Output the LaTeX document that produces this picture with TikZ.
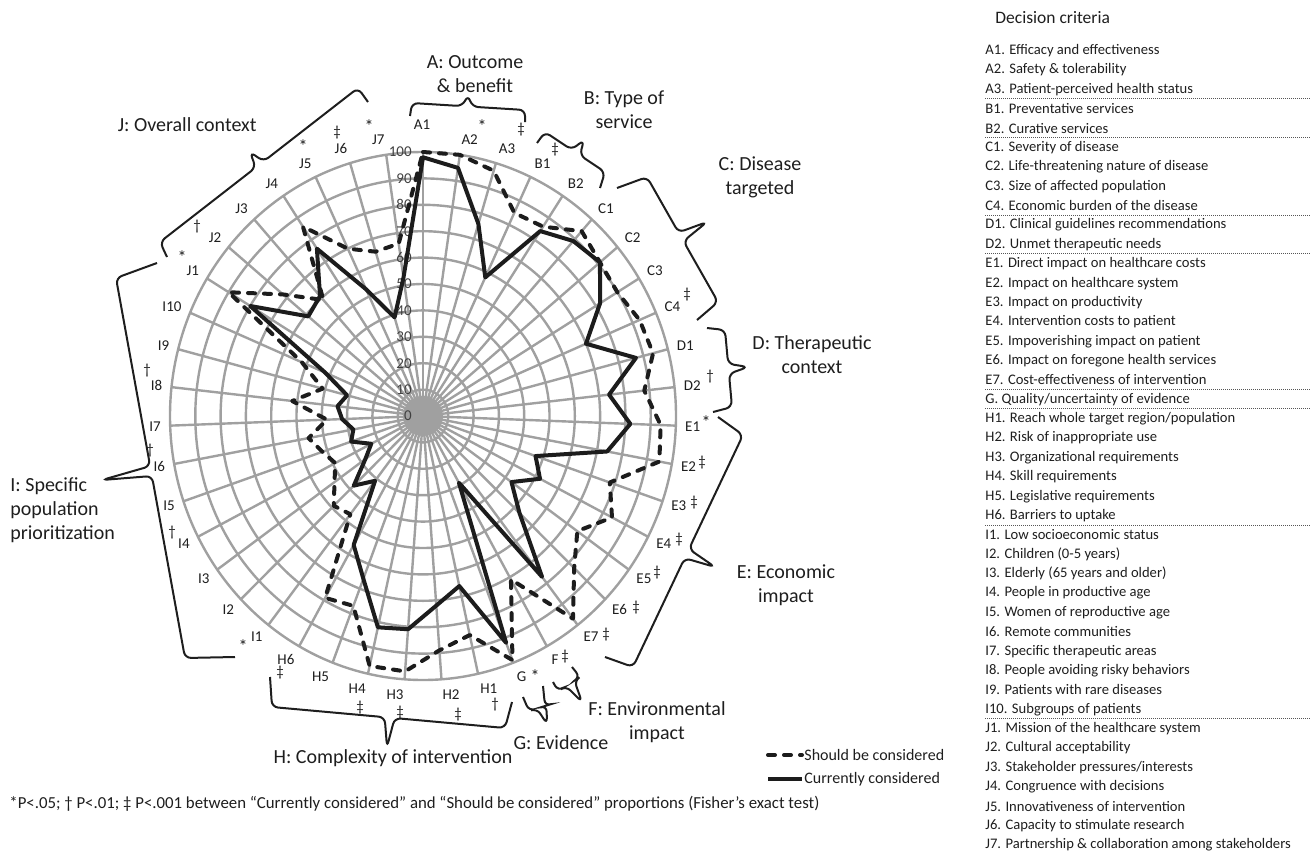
\documentclass[tikz,border=0pt]{standalone}
\usepackage{fontspec}
\setmainfont{Carlito}
\usetikzlibrary{calc}
\definecolor{gridc}{RGB}{160,160,160}
\definecolor{txt}{RGB}{30,30,30}
\definecolor{ser}{RGB}{28,28,28}
\tikzset{
  grid/.style={draw=gridc, line width=1.2pt},
  ringlab/.style={text=txt!85, font=\fontsize{7.5}{9}\selectfont, inner sep=0pt},
  axlab/.style={text=txt, font=\fontsize{7.5}{9}\selectfont, inner sep=0pt},
  sig/.style={text=txt, font=\fontsize{7.5}{9}\selectfont, inner sep=0pt},
  sigast/.style={text=txt, font=\fontsize{9}{10}\selectfont, inner sep=0pt},
  grouplab/.style={text=txt, font=\fontsize{10}{12}\selectfont, inner sep=0pt, align=center},
  bracestyle/.style={draw=txt, line width=1pt, rounded corners=3pt},
  shouldser/.style={draw=ser, line width=2pt, line cap=round, line join=round, dash pattern=on 3.5pt off 4.5pt},
  currser/.style={draw=ser, line width=2pt, line join=round},
  listitem/.style={text=txt, font=\fontsize{7.3}{8.5}\selectfont, inner sep=0pt, anchor=west},
  sepline/.style={draw=txt!75, line width=0.5pt, dash pattern=on 0.5pt off 0.5pt},
  notetext/.style={text=txt, font=\fontsize{8}{9.5}\selectfont, inner sep=0pt},
}
\newcommand\grpbrace[5]{%
  \coordinate (bm) at ($(#2)!(#5)!(#3)$);
  \draw[bracestyle] (#1) -- (#2) -- ($(bm)!2.5pt!(#2)$) -- (#5) -- ($(bm)!2.5pt!(#3)$) -- (#3) -- (#4);
}
\def\shouldvals{100,100,97,85,86,94,91,90,93,94,88,94,95,78,84,75,83,97,71,99,85,89,97,97,77,79,47,49,43,39,42,46,38,52,41,52,90,72,59,86,70,65,66}
\def\currvals{98,95,76,58,84,89,91,82,70,87,74,82,74,47,52,43,53,77,29,92,66,72,81,82,66,56,31,38,28,23,30,28,32,34,31,42,80,59,61,76,53,39,53}
\begin{document}
\begin{tikzpicture}[x=0.5pt,y=-0.5pt]
\useasboundingbox (0,0) rectangle (1310,856);
\coordinate (C) at (423,416);
% rings
\foreach \i in {1,...,10} \draw[grid] (C) ellipse [x radius={12.65pt*\i}, y radius={13.2pt*\i}];
% spokes
\foreach \k in {0,...,42} {
  \coordinate (S\k) at ({423+253*sin(\k*360/43)},{416-264*cos(\k*360/43)});
  \draw[grid] (C) -- (S\k);
}
\fill[gridc] (C) circle [radius=10pt];
% ring labels
\foreach \i in {0,...,10} {
  \pgfmathtruncatemacro\tval{10*\i}
  \node[ringlab, anchor=east] (R\i) at (412,{416-26.4*\i}) {\tval};
}
% data points
\foreach \v [count=\k from 0] in \shouldvals {
  \coordinate (D\k) at ({423+2.53*\v*sin(\k*360/43)},{416-2.64*\v*cos(\k*360/43)});
}
\foreach \v [count=\k from 0] in \currvals {
  \coordinate (P\k) at ({423+2.53*\v*sin(\k*360/43)},{416-2.64*\v*cos(\k*360/43)});
}
\draw[shouldser] (D0) \foreach \k in {1,...,42} {-- (D\k)} -- cycle;
\draw[currser] (P0) \foreach \k in {1,...,42} {-- (P\k)} -- cycle;
% axis labels
\foreach \lab [count=\k from 0] in {A1,A2,A3,B1,B2,C1,C2,C3,C4,D1,D2,E1,E2,E3,E4,E5,E6,E7,F,G,H1,H2,H3,H4,H5,H6,I1,I2,I3,I4,I5,I6,I7,I8,I9,I10,J1,J2,J3,J4,J5,J6,J7} {
  \ifnum\k>0
    \pgfmathsetmacro\myS{sin(\k*360/43)}
    \pgfmathsetmacro\myC{cos(\k*360/43)}
    \ifdim\myS pt>0pt \def\anc{west}\else\def\anc{east}\fi
    \node[axlab, anchor=\anc] (L\lab) at ({423+262*\myS},{416-279*\myC}) {\lab};
  \fi
}
\node[axlab] (LA1) at (422,125) {A1};
% significance markers
\node[sigast] (mA2) at (482,126) {*};
\node[sig] (mA3) at (521,130) {‡};
\node[sig] (mB1) at (555,150) {‡};
\node[sig] (mC4) at (687,295) {‡};
\node[sig] (mD2) at (710,377) {†};
\node[sigast] (mE1) at (706,422) {*};
\node[sig] (mE2) at (702,463) {‡};
\node[sig] (mE3) at (694,503) {‡};
\node[sig] (mE4) at (679,540) {‡};
\node[sig] (mE5) at (657,573) {‡};
\node[sig] (mE6) at (636,608) {‡};
\node[sig] (mE7) at (606,635) {‡};
\node[sig] (mF) at (565,657) {‡};
\node[sigast] (mG) at (535,676) {*};
\node[sig] (mH1) at (495,705) {†};
\node[sig] (mH2) at (458,715) {‡};
\node[sig] (mH3) at (400,713) {‡};
\node[sig] (mH4) at (360,708) {‡};
\node[sig] (mH6) at (280,673) {‡};
\node[sigast] (mI1) at (243,646) {*};
\node[sig] (mI4) at (172,533) {†};
\node[sig] (mI6) at (150,451) {†};
\node[sig] (mI8) at (147,371) {†};
\node[sigast] (mJ1) at (182,257) {*};
\node[sig] (mJ2) at (197,227) {†};
\node[sigast] (mJ5) at (303,146) {*};
\node[sig] (mJ6) at (337,133) {‡};
\node[sigast] (mJ7) at (369,126) {*};
% braces
\grpbrace{410,116}{412,103}{525,110}{525,122}{468,95}
\grpbrace{537,143}{545,132}{605,172}{600,188}{584,140}
\grpbrace{617,188}{647,177}{718,302}{697,320}{707,222}
\grpbrace{707,328}{725,330}{732,407}{713,412}{748,367}
\grpbrace{718,417}{743,435}{633,667}{605,657}{715,567}
\grpbrace{572,667}{580,677}{558,691}{553,682}{582,702}
\grpbrace{523,697}{529,711}{545,706}{543,686}{547,724}
\grpbrace{270,677}{272,707}{505,728}{512,702}{387,747}
\grpbrace{157,263}{116,278}{185,658}{235,657}{102,480}
\grpbrace{167,257}{160,242}{358,88}{368,102}{250,152}
% group labels
\node[grouplab] (gA) at (475,74) {A: Outcome\\\& benefit};
\node[grouplab] (gB) at (624,110) {B: Type of\\service};
\node[grouplab] (gC) at (760,177) {C: Disease\\targeted};
\node[grouplab] (gD) at (812,355) {D: Therapeutic\\context};
\node[grouplab] (gE) at (786,585) {E: Economic\\impact};
\node[grouplab] (gF) at (657,722) {F: Environmental\\impact};
\node[grouplab] (gG) at (561,743) {G: Evidence};
\node[grouplab] (gH) at (393,758) {H: Complexity of intervention};
\node[grouplab, align=left, anchor=west] (gI) at (10,510) {I: Specific\\population\\prioritization};
\node[grouplab, anchor=east] (gJ) at (257,125) {J: Overall context};
% legend
\coordinate (lg1a) at (768,755); \coordinate (lg1b) at (802,755);
\coordinate (lg2a) at (768,779); \coordinate (lg2b) at (802,779);
\draw[shouldser] (lg1a) -- (lg1b);
\draw[currser] (lg2a) -- (lg2b);
\node[notetext, anchor=west] (lgt1) at (804,755) {Should be considered};
\node[notetext, anchor=west] (lgt2) at (804,779) {Currently considered};
% footnote
\node[notetext, anchor=west, font=\fontsize{8.4}{10}\selectfont] (fn) at (9,804) {*P<.05; † P<.01; ‡ P<.001 between “Currently considered” and “Should be considered” proportions (Fisher’s exact test)};
% criteria list
\node[listitem, font=\fontsize{8.75}{10}\selectfont] (dc) at (995,18) {Decision criteria};
\foreach \t [count=\i from 0] in {A1. Efficacy and effectiveness,A2. Safety \& tolerability,A3. Patient-perceived health status,B1. Preventative services,B2. Curative services,C1. Severity of disease,C2. Life-threatening nature of disease,C3. Size of affected population,C4. Economic burden of the disease,D1. Clinical guidelines recommendations,D2. Unmet therapeutic needs,E1. Direct impact on healthcare costs,E2. Impact on healthcare system,E3. Impact on productivity,E4. Intervention costs to patient,E5. Impoverishing impact on patient,E6. Impact on foregone health services,E7. Cost-effectiveness of intervention,G. Quality/uncertainty of evidence,H1. Reach whole target region/population,H2. Risk of inappropriate use,H3. Organizational requirements,H4. Skill requirements,H5. Legislative requirements,H6. Barriers to uptake,I1. Low socioeconomic status,I2. Children (0-5 years),I3. Elderly (65 years and older),I4. People in productive age,I5. Women of reproductive age,I6. Remote communities,I7. Specific therapeutic areas,I8. People avoiding risky behaviors,I9. Patients with rare diseases,I10. Subgroups of patients,J1. Mission of the healthcare system,J2. Cultural acceptability,J3. Stakeholder pressures/interests,J4. Congruence with decisions,J5. Innovativeness of intervention,J6. Capacity to stimulate research,J7. Partnership \& collaboration among stakeholders}
  \node[listitem] (li\i) at (985,{50.7+19.37*\i}) {\t};
\foreach \i in {2,4,8,10,17,18,24,34}
  \draw[sepline] (985,{50.7+19.37*\i+9.5}) -- (1310,{50.7+19.37*\i+9.5});
\end{tikzpicture}
\end{document}
